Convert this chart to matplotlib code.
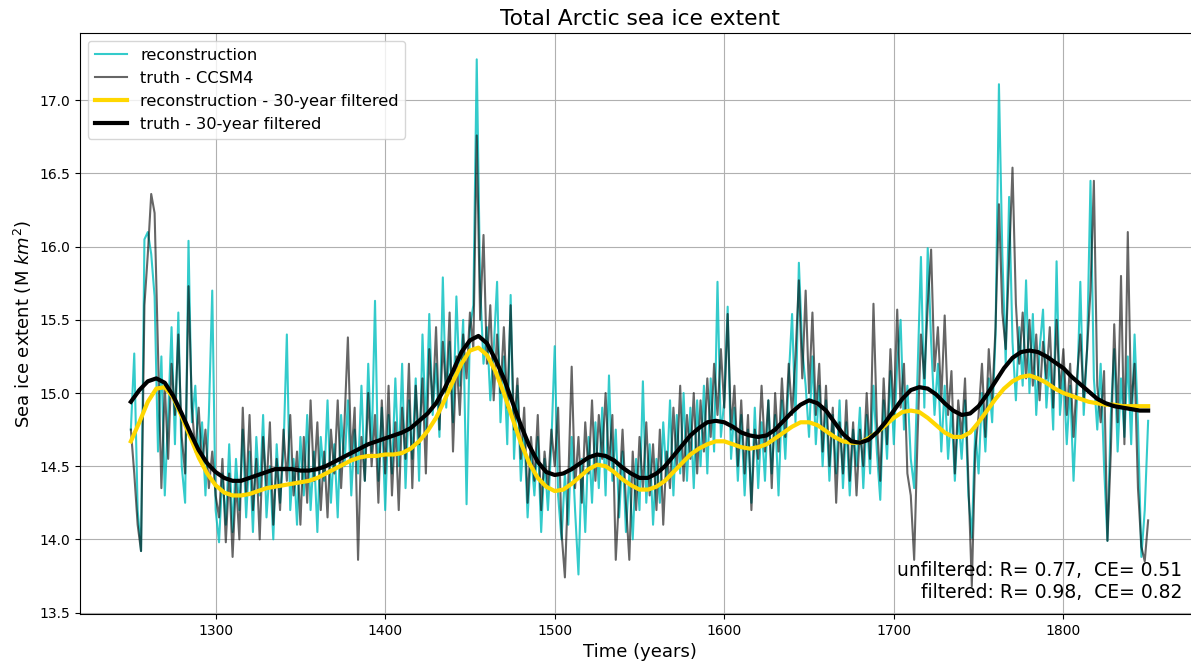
# -*- coding: utf-8 -*-
"""
Total Arctic sea ice extent: reconstruction vs truth (CCSM4), raw + 30-year filtered.
"""
import numpy as np
import matplotlib
matplotlib.use('Agg')
import matplotlib.pyplot as plt

# =============================================================================
# Datos leidos del grafico (serie anual muestreada cada 2 anos)
# =============================================================================
anios = np.arange(1250, 1851, 2)

recon = [
    14.75, 15.27, 14.20, 13.92, 16.05,  16.10, 15.95, 15.66, 14.60, 15.25,
    14.30, 14.85, 15.45, 14.65, 15.55,  14.50, 14.25, 16.04, 14.80, 15.05,
    14.55, 14.80, 14.30, 14.85, 15.70,  14.20, 13.98, 14.45, 14.10, 14.65,
    14.05, 14.55, 14.20, 14.75, 14.15,  14.60, 14.05, 14.70, 14.30, 14.85,
    14.15, 14.50, 14.00, 14.65, 14.25,  14.60, 15.40, 14.20, 14.55, 14.10,
    14.70, 14.30, 14.85, 14.20, 14.60,  14.05, 14.70, 14.40, 14.95, 14.25,
    14.65, 14.15, 14.85, 14.50, 14.95,  14.30, 14.75, 14.45, 15.05, 14.40,
    15.20, 14.60, 15.63, 14.40, 14.90,  14.20, 14.85, 14.45, 15.10, 14.50,
    15.20, 14.35, 14.95, 14.55, 15.10,  14.40, 15.40, 14.75, 15.54, 14.85,
    15.20, 14.70, 15.79, 14.90, 15.35,  14.80, 15.66, 15.05, 15.50, 14.24,
    15.45, 15.60, 17.28, 15.73, 15.20,  15.45, 14.95, 15.30, 15.76, 14.80,
    15.25, 14.65, 15.67, 14.55, 15.05,  14.40, 14.75, 14.15, 14.60, 14.30,
    14.70, 14.05, 14.55, 14.20, 14.65,  15.32, 14.30, 14.00, 14.45, 14.10,
    14.70, 14.20, 13.76, 14.55, 14.05,  14.70, 14.25, 14.80, 14.35, 14.90,
    14.30, 15.12, 14.40, 14.75, 14.15,  14.60, 14.05, 14.45, 14.00, 14.55,
    14.20, 15.08, 14.25, 14.65, 14.10,  14.55, 14.25, 14.80, 14.40, 14.95,
    14.30, 14.85, 14.45, 15.00, 14.40,  14.90, 14.35, 14.95, 14.50, 15.05,
    14.45, 15.10, 14.60, 15.76, 14.70,  14.95, 15.59, 14.55, 14.90, 14.40,
    14.85, 14.30, 14.75, 14.25, 14.90,  14.35, 14.80, 14.40, 14.95, 14.45,
    14.85, 14.30, 14.95, 14.55, 15.10,  15.54, 14.80, 15.89, 15.30, 15.05,
    14.70, 15.25, 14.65, 15.05, 14.50,  14.95, 14.40, 14.85, 14.45, 14.95,
    14.35, 14.80, 14.30, 14.75, 14.50,  14.90, 14.35, 14.85, 14.45, 15.05,
    14.60, 14.27, 14.95, 14.55, 15.15,  14.65, 15.20, 15.50, 14.75, 15.05,
    14.55, 14.35, 15.15, 15.93, 14.90,  15.99, 15.35, 14.85, 15.20, 14.60,
    15.05, 14.55, 14.90, 14.40, 14.85,  14.55, 14.95, 14.30, 14.01, 14.75,
    14.45, 15.00, 14.60, 15.10, 14.80,  15.40, 17.11, 15.95, 15.20, 16.34,
    15.35, 14.95, 15.45, 15.05, 15.77,  15.00, 15.54, 14.85, 15.30, 15.57,
    14.90, 15.25, 14.75, 15.90, 14.85,  15.15, 14.65, 15.05, 14.40, 14.95,
    15.76, 14.85, 15.30, 16.45, 15.10,  14.75, 15.20, 14.50, 13.99, 14.85,
    15.30, 14.60, 15.10, 14.70, 15.25,  14.65, 15.40, 14.80, 13.88, 14.20,
    14.81,
]

verdad = [
    14.75, 14.45, 14.10, 13.92, 15.60,  15.95, 16.36, 16.23, 15.30, 14.35,
    15.05, 14.55, 15.20, 14.85, 15.40,  14.70, 14.45, 15.73, 14.90, 14.60,
    14.90, 14.50, 14.75, 14.35, 14.60,  14.30, 14.15, 14.55, 13.98, 14.45,
    13.88, 14.40, 14.00, 14.90, 14.30,  14.85, 14.20, 14.55, 14.00, 14.70,
    14.35, 14.80, 14.10, 14.55, 14.20,  14.75, 14.40, 14.85, 14.30, 14.60,
    14.10, 14.70, 14.25, 14.95, 14.40,  14.80, 14.20, 14.60, 14.15, 14.75,
    14.45, 14.95, 14.35, 14.80, 15.38,  14.55, 14.90, 13.86, 14.70, 14.40,
    15.00, 14.50, 14.85, 14.25, 14.95,  14.45, 15.05, 14.30, 14.80, 14.20,
    14.90, 14.55, 15.20, 14.35, 15.05,  14.65, 15.10, 14.45, 15.30, 14.90,
    15.45, 14.75, 15.35, 15.00, 15.55,  14.60, 15.25, 14.85, 15.40, 15.10,
    15.55, 15.30, 16.76, 15.50, 16.08,  15.20, 15.60, 14.95, 15.40, 15.00,
    15.45, 14.90, 15.60, 14.75, 15.10,  14.55, 14.90, 14.25, 14.70, 14.40,
    14.85, 14.20, 14.60, 14.35, 14.75,  14.50, 14.90, 14.05, 13.74, 14.40,
    15.18, 14.35, 14.70, 14.25, 14.80,  14.45, 14.95, 14.40, 14.85, 14.55,
    15.00, 14.50, 14.85, 13.86, 14.30,  14.75, 14.25, 13.86, 14.60, 14.20,
    14.70, 14.35, 14.80, 14.30, 14.65,  14.20, 14.75, 14.10, 14.60, 14.35,
    14.90, 14.50, 15.05, 14.40, 14.85,  14.55, 15.00, 14.45, 14.95, 14.60,
    15.10, 14.70, 15.20, 14.85, 15.30,  14.90, 15.54, 14.75, 15.05, 14.50,
    14.95, 14.45, 14.85, 14.20, 14.75,  14.55, 15.05, 14.60, 14.95, 14.35,
    15.00, 14.60, 15.10, 14.70, 15.20,  14.85, 15.25, 15.77, 15.10, 15.70,
    15.00, 15.55, 14.85, 15.20, 14.60,  15.05, 14.50, 14.90, 14.25, 14.80,
    14.45, 14.95, 14.40, 14.80, 14.30,  14.75, 14.50, 15.00, 14.55, 15.61,
    14.80, 14.40, 15.10, 14.65, 15.30,  14.85, 15.57, 14.90, 15.20, 14.45,
    14.30, 13.86, 14.70, 15.40, 15.10,  15.60, 15.98, 15.15, 15.45, 14.95,
    15.53, 14.85, 15.15, 14.45, 14.95,  14.70, 15.10, 14.40, 13.68, 14.60,
    14.85, 15.20, 14.70, 15.30, 14.95,  15.45, 16.29, 15.55, 15.30, 15.90,
    16.54, 15.61, 15.20, 15.55, 15.10,  15.50, 15.05, 15.40, 14.95, 15.35,
    15.10, 15.45, 14.90, 15.50, 15.00,  15.30, 14.85, 15.20, 14.70, 15.10,
    15.40, 14.95, 15.30, 15.70, 16.45,  15.05, 14.80, 15.15, 13.99, 14.60,
    15.47, 14.80, 15.80, 14.65, 16.10,  14.90, 15.20, 14.35, 13.95, 13.85,
    14.13,
]

# Curvas filtradas (30 anos), leidas cada 5 anos
anios_filt = np.arange(1250, 1851, 5)

recon_filt = [
    14.67, 14.80, 14.94, 15.03, 15.04, 14.97, 14.84, 14.70, 14.56, 14.45,
    14.37, 14.32, 14.30, 14.30, 14.31, 14.33, 14.35, 14.36, 14.37, 14.38,
    14.39, 14.40, 14.42, 14.45, 14.48, 14.51, 14.54, 14.56, 14.57, 14.57,
    14.58, 14.58, 14.59, 14.62, 14.67, 14.74, 14.83, 14.95, 15.08, 15.20,
    15.29, 15.31, 15.26, 15.15, 15.00, 14.83, 14.66, 14.52, 14.42, 14.36,
    14.33, 14.34, 14.38, 14.43, 14.48, 14.51, 14.50, 14.46, 14.41, 14.37,
    14.34, 14.34, 14.36, 14.40, 14.46, 14.52, 14.58, 14.62, 14.65, 14.67,
    14.67, 14.65, 14.63, 14.62, 14.63, 14.65, 14.69, 14.73, 14.77, 14.80,
    14.80, 14.78, 14.74, 14.70, 14.67, 14.66, 14.66, 14.69, 14.73, 14.78,
    14.83, 14.87, 14.88, 14.87, 14.83, 14.78, 14.73, 14.70, 14.70, 14.73,
    14.80, 14.88, 14.96, 15.03, 15.08, 15.11, 15.12, 15.10, 15.07, 15.03,
    15.00, 14.98, 14.96, 14.94, 14.93, 14.92, 14.92, 14.91, 14.91, 14.91,
    14.91,
]

verdad_filt = [
    14.94, 15.02, 15.08, 15.10, 15.07, 14.98, 14.86, 14.73, 14.61, 14.52,
    14.46, 14.42, 14.40, 14.40, 14.42, 14.44, 14.46, 14.48, 14.48, 14.48,
    14.47, 14.47, 14.48, 14.50, 14.53, 14.56, 14.59, 14.62, 14.65, 14.67,
    14.69, 14.71, 14.73, 14.76, 14.81, 14.86, 14.93, 15.03, 15.15, 15.28,
    15.36, 15.39, 15.34, 15.23, 15.10, 14.94, 14.78, 14.64, 14.53, 14.46,
    14.44, 14.45, 14.48, 14.52, 14.56, 14.58, 14.57, 14.54, 14.49, 14.45,
    14.42, 14.42, 14.45, 14.50, 14.57, 14.64, 14.71, 14.76, 14.80, 14.81,
    14.80, 14.77, 14.73, 14.71, 14.70, 14.71, 14.75, 14.81, 14.87, 14.92,
    14.95, 14.93, 14.88, 14.80, 14.72, 14.67, 14.66, 14.68, 14.73, 14.80,
    14.88, 14.96, 15.02, 15.04, 15.03, 14.99, 14.93, 14.88, 14.85, 14.86,
    14.91, 14.99, 15.08, 15.17, 15.24, 15.28, 15.29, 15.28, 15.25, 15.21,
    15.17, 15.11, 15.06, 15.01, 14.96, 14.93, 14.91, 14.90, 14.89, 14.88,
    14.88,
]

texto_stats = 'unfiltered: R= 0.77,  CE= 0.51\nfiltered: R= 0.98,  CE= 0.82'

# =============================================================================
# Figura
# =============================================================================
fig = plt.figure(figsize=(11.91, 6.64), dpi=100)
# el eje derecho queda apenas fuera de la imagen, como en el original
ax = fig.add_axes([80 / 1191, 50 / 664, 1119 / 1191, 581 / 664])

ax.plot(anios, recon, color='c', alpha=0.8, linewidth=1.5, label='reconstruction')
ax.plot(anios, verdad, color='k', alpha=0.6, linewidth=1.5, label='truth - CCSM4')
ax.plot(anios_filt, recon_filt, color='gold', linewidth=3,
        label='reconstruction - 30-year filtered')
ax.plot(anios_filt, verdad_filt, color='k', linewidth=3,
        label='truth - 30-year filtered')

ax.set_xlim(1220, 1880)
ax.set_ylim(13.49, 17.46)
ax.set_yticks([13.5, 14.0, 14.5, 15.0, 15.5, 16.0, 16.5, 17.0])
ax.set_xticks([1300, 1400, 1500, 1600, 1700, 1800])
ax.tick_params(labelsize=10)
ax.grid(True)

ax.set_title('Total Arctic sea ice extent', fontsize=15.7)
ax.set_xlabel('Time (years)', fontsize=13)
ax.set_ylabel('Sea ice extent (M $km^2$)', fontsize=13)
ax.legend(loc='upper left', fontsize=11.7)

ax.text(0.985, 0.02, texto_stats, transform=ax.transAxes, ha='right',
        va='bottom', fontsize=13.5, multialignment='right')

fig.savefig('out.png', dpi=100)
